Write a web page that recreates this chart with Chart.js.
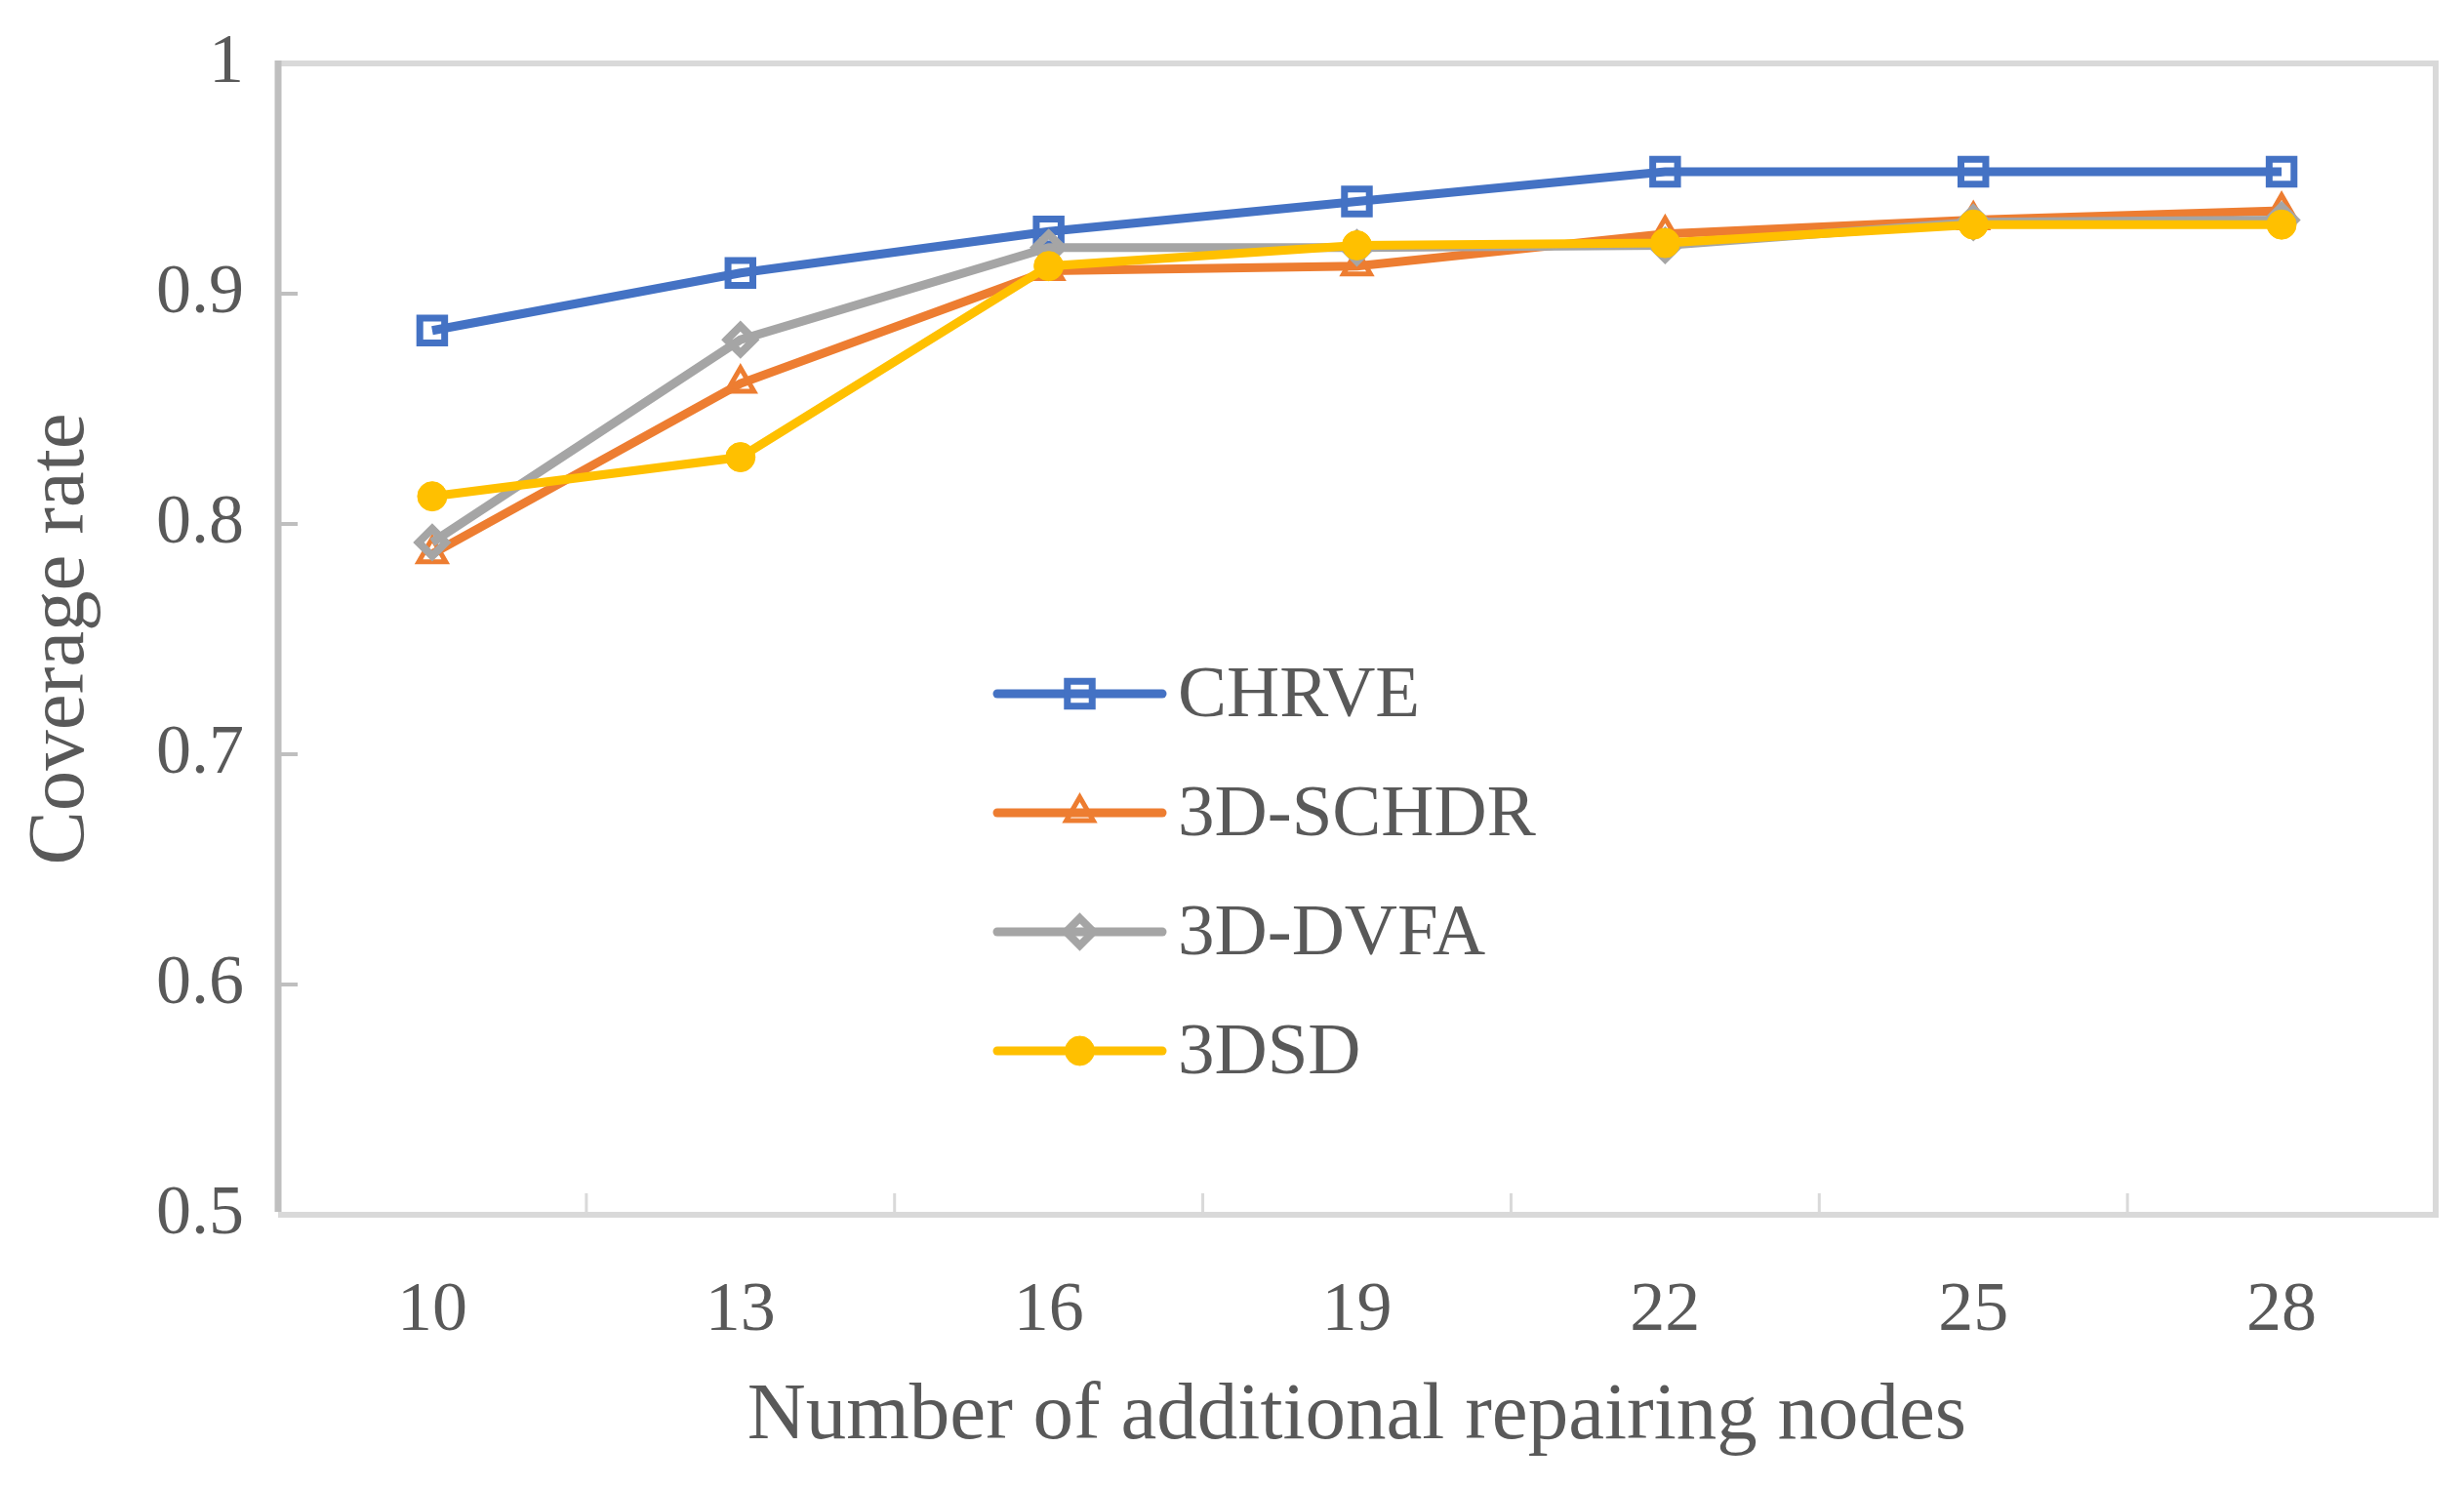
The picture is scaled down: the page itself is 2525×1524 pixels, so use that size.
<!DOCTYPE html>
<html>
<head>
<meta charset="utf-8">
<title>Coverage rate</title>
<script src="https://cdn.jsdelivr.net/npm/chart.js"></script>
<style>
    body { margin: 0; background: #ffffff; }
    #wrap { width: 2525px; height: 1524px; }
</style>
</head>
<body>
<div id="wrap"><canvas id="coverageChart" width="2525" height="1524"></canvas></div>
<script>
// Chart data
const nodeCounts = ['10', '13', '16', '19', '22', '25', '28'];
const seriesNames = ['CHRVE', '3D-SCHDR', '3D-DVFA', '3DSD'];
const chrveValues = [0.884, 0.909, 0.927, 0.940, 0.953, 0.953, 0.953];
const schdrValues = [0.787, 0.861, 0.910, 0.912, 0.926, 0.932, 0.936];
const dvfaValues  = [0.792, 0.880, 0.920, 0.920, 0.921, 0.931, 0.932];
const sdValues    = [0.812, 0.829, 0.912, 0.921, 0.922, 0.930, 0.930];
const yTickLabels = ['0.5', '0.6', '0.7', '0.8', '0.9', '1'];

const textColor = '#595959';
const serif = '"Liberation Serif", "Times New Roman", serif';

// Draw a marker like Chart.js does, used by the legend
function drawMarker(ctx, style, x, y, r, stroke, fill, width) {
    ctx.save();
    ctx.beginPath();
    if (style === 'rect') {
        const s = Math.SQRT1_2 * r;
        ctx.rect(x - s, y - s, 2 * s, 2 * s);
    } else if (style === 'triangle') {
        ctx.moveTo(x, y - r);
        ctx.lineTo(x + Math.sin(2 * Math.PI / 3) * r, y - Math.cos(2 * Math.PI / 3) * r);
        ctx.lineTo(x + Math.sin(4 * Math.PI / 3) * r, y - Math.cos(4 * Math.PI / 3) * r);
        ctx.closePath();
    } else if (style === 'rectRot') {
        ctx.moveTo(x, y - r);
        ctx.lineTo(x + r, y);
        ctx.lineTo(x, y + r);
        ctx.lineTo(x - r, y);
        ctx.closePath();
    } else {
        ctx.arc(x, y, r, 0, Math.PI * 2);
    }
    ctx.fillStyle = fill;
    ctx.fill();
    ctx.lineWidth = width;
    ctx.strokeStyle = stroke;
    ctx.stroke();
    ctx.restore();
}

// Plot border, inward tick marks and the legend
const frameAndLegend = {
    id: 'frameAndLegend',
    beforeDatasetsDraw(chart) {
        const ctx = chart.ctx;
        const area = chart.chartArea;
        const xScale = chart.scales.x;
        const yScale = chart.scales.y;
        ctx.save();

        // top and right border, x axis line
        ctx.strokeStyle = '#d9d9d9';
        ctx.lineWidth = 6;
        ctx.beginPath();
        ctx.moveTo(area.left, area.top);
        ctx.lineTo(area.right, area.top);
        ctx.lineTo(area.right, area.bottom);
        ctx.lineTo(area.left, area.bottom);
        ctx.stroke();

        // x tick marks between categories
        ctx.lineWidth = 3;
        const step = xScale.getPixelForValue(1) - xScale.getPixelForValue(0);
        for (let i = 1; i < nodeCounts.length; i++) {
            const px = xScale.getPixelForValue(i) - step / 2;
            ctx.beginPath();
            ctx.moveTo(px, area.bottom);
            ctx.lineTo(px, area.bottom - 22);
            ctx.stroke();
        }

        // y axis line and tick marks
        ctx.strokeStyle = '#bfbfbf';
        ctx.lineWidth = 7;
        ctx.beginPath();
        ctx.moveTo(area.left, area.top - 3);
        ctx.lineTo(area.left, area.bottom - 3);
        ctx.stroke();
        ctx.lineWidth = 4;
        yScale.ticks.forEach(function(t) {
            if (t.value <= yScale.min || t.value >= yScale.max) return;
            const py = yScale.getPixelForValue(t.value);
            ctx.beginPath();
            ctx.moveTo(area.left, py);
            ctx.lineTo(area.left + 20, py);
            ctx.stroke();
        });
        ctx.restore();
    },
    afterDatasetsDraw(chart) {
        const ctx = chart.ctx;
        const area = chart.chartArea;
        const lineStart = area.left + 737;
        const lineEnd = area.left + 906;
        const textX = area.left + 922;
        ctx.save();
        ctx.font = '75px ' + serif;
        ctx.textBaseline = 'middle';
        ctx.fillStyle = textColor;
        chart.data.datasets.forEach(function(ds, i) {
            const y = area.top + 646 + i * 122;
            ctx.strokeStyle = ds.borderColor;
            ctx.lineWidth = ds.borderWidth;
            ctx.lineCap = 'round';
            ctx.beginPath();
            ctx.moveTo(lineStart, y);
            ctx.lineTo(lineEnd, y);
            ctx.stroke();
            drawMarker(ctx, ds.pointStyle, (lineStart + lineEnd) / 2, y, ds.pointRadius,
                ds.borderColor, ds.pointBackgroundColor, ds.pointBorderWidth);
            ctx.fillText(ds.label, textX, y + 3);
        });
        ctx.restore();
    }
};

function makeSeries(label, values, color, style, radius, border, fill, order) {
    return {
        label: label,
        data: values,
        borderColor: color,
        backgroundColor: color,
        borderWidth: 9,
        pointStyle: style,
        pointRadius: radius,
        pointHoverRadius: radius,
        pointBorderWidth: border,
        pointBorderColor: color,
        pointBackgroundColor: fill,
        tension: 0,
        order: order
    };
}

new Chart(document.getElementById('coverageChart'), {
    type: 'line',
    data: {
        labels: nodeCounts,
        datasets: [
            makeSeries(seriesNames[0], chrveValues, '#4472c4', 'rect', 18, 7, 'rgba(255,255,255,0)', 3),
            makeSeries(seriesNames[1], schdrValues, '#ed7d31', 'triangle', 16, 5, 'rgba(255,255,255,0)', 2),
            makeSeries(seriesNames[2], dvfaValues, '#a5a5a5', 'rectRot', 14, 8, 'rgba(255,255,255,0)', 1),
            makeSeries(seriesNames[3], sdValues, '#ffc000', 'circle', 15, 1, '#ffc000', 0)
        ]
    },
    options: {
        responsive: false,
        animation: false,
        devicePixelRatio: 1,
        layout: { padding: { top: 65, right: 29, bottom: 0, left: 0 } },
        plugins: {
            legend: { display: false },
            tooltip: { enabled: false }
        },
        scales: {
            x: {
                offset: true,
                grid: { display: false },
                border: { display: false },
                ticks: {
                    color: textColor,
                    padding: 48,
                    font: { family: serif, size: 72, lineHeight: 1.2 }
                },
                title: {
                    display: true,
                    text: 'Number of additional repairing nodes',
                    color: textColor,
                    padding: { top: 0, bottom: 22 },
                    font: { family: serif, size: 83, lineHeight: 1.2 }
                },
                afterFit: function(scale) {
                    scale.height = 279;
                    scale.paddingLeft = 0;
                    scale.paddingRight = 0;
                }
            },
            y: {
                min: 0.5,
                max: 1,
                grid: { display: false },
                border: { display: false },
                ticks: {
                    stepSize: 0.1,
                    color: textColor,
                    padding: 27,
                    font: { family: serif, size: 72, lineHeight: 1.2 },
                    callback: function(value, index) { return yTickLabels[index]; }
                },
                title: {
                    display: true,
                    text: 'Coverage rate',
                    color: textColor,
                    padding: { top: 13, bottom: 0 },
                    font: { family: serif, size: 83, lineHeight: 1.2 }
                },
                afterFit: function(scale) {
                    scale.width = 285;
                    scale.paddingTop = 0;
                    scale.paddingBottom = 0;
                }
            }
        }
    },
    plugins: [frameAndLegend]
});
</script>
</body>
</html>
